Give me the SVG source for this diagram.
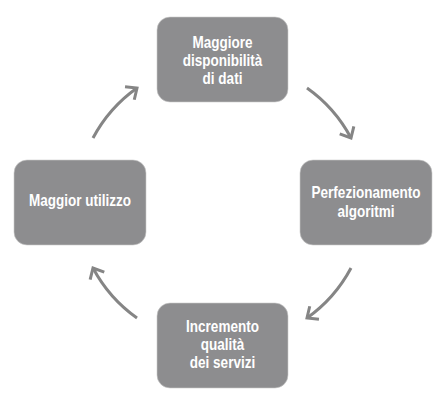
<svg xmlns="http://www.w3.org/2000/svg" width="442" height="418" viewBox="0 0 442 418">
<style>
.box{fill:#8d8d8f;stroke:#c9c9c9;stroke-width:0.6}
.lbl{font-family:"Liberation Sans",Arial,sans-serif;font-weight:bold;font-size:16px;fill:#ffffff;text-anchor:middle}
.arr{fill:none;stroke:#858585;stroke-width:3;marker-end:url(#head)}
</style>
<defs>
<marker id="head" markerUnits="userSpaceOnUse" markerWidth="30" markerHeight="30" viewBox="-15 -15 30 30" refX="0" refY="0" orient="auto">
<path d="M-9,-8 L0,0 L-9,8" fill="none" stroke="#858585" stroke-width="3" stroke-linejoin="miter"/>
</marker>
</defs>
<rect width="442" height="418" fill="#ffffff"/>
<g id="connectors">
<path class="arr" d="M93,138 A144,144 0 0 1 137,88"/>
<path class="arr" d="M307,88 A144,144 0 0 1 351,138"/>
<path class="arr" d="M351,268 A144,144 0 0 1 307,318"/>
<path class="arr" d="M137,318 A144,144 0 0 1 93,268"/>
</g>
<g id="node-top">
<rect class="box" x="157" y="17" width="131" height="85" rx="13"/>
<text class="lbl" transform="translate(222.5,48) scale(0.845,1)">Maggiore</text>
<text class="lbl" transform="translate(222.5,66) scale(0.845,1)">disponibilità</text>
<text class="lbl" transform="translate(222.5,84) scale(0.845,1)">di dati</text>
</g>
<g id="node-right">
<rect class="box" x="300" y="160" width="132" height="85" rx="13"/>
<text class="lbl" transform="translate(366,198) scale(0.845,1)">Perfezionamento</text>
<text class="lbl" transform="translate(366,217) scale(0.845,1)">algoritmi</text>
</g>
<g id="node-bottom">
<rect class="box" x="157" y="303" width="131" height="85" rx="13"/>
<text class="lbl" transform="translate(222.5,332) scale(0.845,1)">Incremento</text>
<text class="lbl" transform="translate(222.5,350) scale(0.845,1)">qualità</text>
<text class="lbl" transform="translate(222.5,368) scale(0.845,1)">dei servizi</text>
</g>
<g id="node-left">
<rect class="box" x="14" y="160" width="132" height="85" rx="13"/>
<text class="lbl" transform="translate(80,206) scale(0.845,1)">Maggior utilizzo</text>
</g>
</svg>
